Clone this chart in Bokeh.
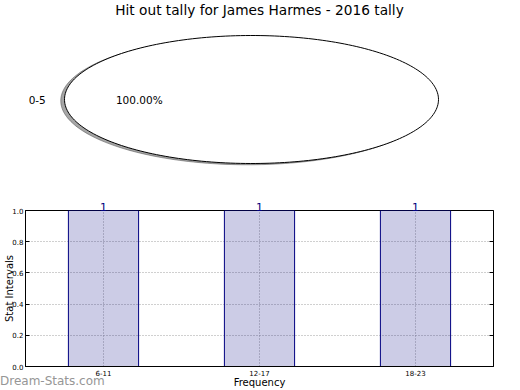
import numpy as np
from bokeh.plotting import figure
from bokeh.layouts import column
from bokeh.models import (Range1d, FactorRange, ColumnDataSource, LabelSet, Label, Div,
                          SingleIntervalTicker, PrintfTickFormatter, LinearAxis, CategoricalAxis,
                          CustomJSTickFormatter)
from bokeh.core.properties import value
from bokeh.embed import file_html
from bokeh.resources import INLINE

# ---------------- data ----------------
title_text = "Hit out tally for James Harmes - 2016 tally"
pie_labels = ["0-5"]
pie_values = [1]

bar_categories = ["6-11", "12-17", "18-23"]
bar_values = [1, 1, 1]
y_label = "Stat Intervals"
x_label = "Frequency"
watermark = "Dream-Stats.com"

FONT = "DejaVu Sans"
BL, BR = 25, 27  # left / right borders of both frames
CX = 251         # pie centre, px

# ---------------- pie (stretched by the axes) ----------------
p1 = figure(width=520, height=195, output_backend="svg", toolbar_location=None,
            x_axis_type=None, y_axis_type=None,
            x_range=Range1d(-(CX - BL) / 187, (520 - BR - CX) / 187),
            y_range=Range1d(-96 / 64, 99 / 64),
            min_border_left=BL, min_border_right=BR, min_border_top=0, min_border_bottom=0)
p1.grid.visible = False
p1.outline_line_color = None
p1.add_layout(Label(x=259 - BL, y=186, x_units="screen", y_units="screen", text=title_text,
                    text_align="center", text_baseline="middle", text_font=FONT,
                    text_font_size="13.7px", text_color="black"))

vals = np.array(pie_values, dtype=float)
fracs = vals / vals.sum()
start = 0.0
xs, ys, sxs, sys_, lx, ly, px, py, pct = [], [], [], [], [], [], [], [], []
for f in fracs:
    a0, a1 = start, start + 2 * np.pi * f
    th = np.linspace(a0, a1, 240)
    cx, cy = np.cos(th), np.sin(th)
    if f < 1:
        cx = np.concatenate([[0], cx])
        cy = np.concatenate([[0], cy])
    xs.append(list(cx)); ys.append(list(cy))
    sxs.append(list(cx - 0.02)); sys_.append(list(cy - 0.02))
    mid = (a0 + a1) / 2
    lx.append(1.1 * np.cos(mid)); ly.append(1.1 * np.sin(mid))
    px.append(0.6 * np.cos(mid)); py.append(0.6 * np.sin(mid))
    pct.append("%.2f%%" % (f * 100))
    start = a1

p1.patches(sxs, sys_, fill_color="#4d4d4d", fill_alpha=0.5, line_color="#4d4d4d", line_alpha=0.5)
p1.patches(xs, ys, fill_color="white", line_color="black", line_width=1)
src_lab = ColumnDataSource(dict(x=lx, y=ly, t=pie_labels))
p1.add_layout(LabelSet(x="x", y="y", text="t", source=src_lab, text_align="right",
                       text_baseline="middle", text_font=value(FONT),
                       text_font_size="10.5px", text_color="black"))
src_pct = ColumnDataSource(dict(x=px, y=py, t=pct))
p1.add_layout(LabelSet(x="x", y="y", text="t", source=src_pct, text_align="center",
                       text_baseline="middle", text_font=value(FONT),
                       text_font_size="10.5px", text_color="black"))

# ---------------- bar chart ----------------
p2 = figure(width=520, height=195, output_backend="svg", toolbar_location=None,
            x_range=FactorRange(*bar_categories), y_range=Range1d(0, 1),
            min_border_left=BL, min_border_right=BR, min_border_top=15, min_border_bottom=21)
p2.vbar(x=bar_categories, top=bar_values, width=0.45, fill_color="navy", fill_alpha=0.2,
        line_color="navy", line_width=1)

p2.outline_line_color = "black"
p2.outline_line_width = 1
for g in (p2.xgrid, p2.ygrid):
    g.grid_line_color = "#a0a0a0"
    g.grid_line_dash = "1 2"
    g.grid_line_width = 1

bottom_axis = p2.below[0]
left_axis = p2.left[0]

# value labels above the bars, shown through a top category axis
value_map = {c: str(v) for c, v in zip(bar_categories, bar_values)}
top_axis = CategoricalAxis(
    formatter=CustomJSTickFormatter(args=dict(m=value_map), code="return m[tick];"),
    major_label_text_color="navy", major_label_text_font=FONT,
    major_label_text_font_size="11px", major_label_standoff=0,
    major_tick_in=0, major_tick_out=0, axis_line_color=None)
p2.add_layout(top_axis, "above")

right_axis = LinearAxis(major_label_text_color=None, major_label_text_font_size="1px",
                        axis_line_color=None, major_label_standoff=0,
                        ticker=SingleIntervalTicker(interval=0.2))
p2.add_layout(right_axis, "right")

left_axis.ticker = SingleIntervalTicker(interval=0.2)
left_axis.formatter = PrintfTickFormatter(format="%.1f")
for ax in (bottom_axis, left_axis, right_axis):
    ax.major_tick_in = 4
    ax.major_tick_out = 0
    ax.minor_tick_in = 0
    ax.minor_tick_out = 0
    ax.major_tick_line_color = "black"
for ax in (bottom_axis, left_axis):
    ax.major_label_text_font = FONT
    ax.major_label_text_font_size = "7px"
    ax.major_label_text_color = "black"
    ax.major_label_standoff = 2
    ax.axis_line_color = "black"
    ax.axis_label_text_font = FONT
    ax.axis_label_text_font_size = "10px"
    ax.axis_label_text_font_style = "normal"
    ax.axis_label_text_color = "black"
bottom_axis.major_tick_line_color = None
bottom_axis.major_label_standoff = 3
left_axis.axis_label = y_label
left_axis.axis_label_standoff = -6
bottom_axis.axis_label = x_label
bottom_axis.axis_label_standoff = -2

wm = Div(text=watermark, width=110, height=14, margin=(-16, 0, 0, 0),
         styles={"font-family": FONT, "font-size": "12px", "color": "#969696",
                 "line-height": "14px", "white-space": "nowrap"})

layout = column(p1, p2, wm, spacing=0)
open("out.html", "w").write(file_html(layout, INLINE))
